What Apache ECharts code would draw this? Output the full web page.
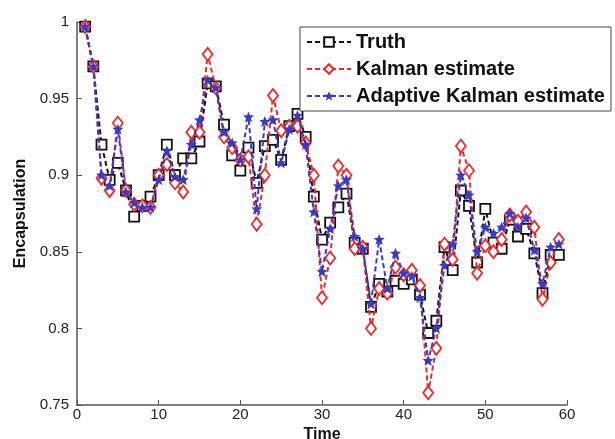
<!DOCTYPE html>
<html>
<head>
    <meta charset="utf-8">
    <title>Encapsulation</title>
    <script src="https://cdn.jsdelivr.net/npm/echarts@6/dist/echarts.min.js"></script>
    <style>
        html, body { margin: 0; padding: 0; background: #ffffff; }
        #chart { width: 615px; height: 439px; }
    </style>
</head>
<body>
<div id="chart"></div>
<script>
    // time steps
    var timeSteps = [1, 2, 3, 4, 5, 6, 7, 8, 9, 10, 11, 12, 13, 14, 15, 16, 17, 18, 19, 20,
        21, 22, 23, 24, 25, 26, 27, 28, 29, 30, 31, 32, 33, 34, 35, 36, 37, 38, 39, 40,
        41, 42, 43, 44, 45, 46, 47, 48, 49, 50, 51, 52, 53, 54, 55, 56, 57, 58, 59];

    var truth = [0.997, 0.971, 0.920, 0.897, 0.908, 0.890, 0.873, 0.880, 0.886, 0.900,
        0.920, 0.900, 0.911, 0.911, 0.922, 0.960, 0.958, 0.933, 0.913, 0.903,
        0.918, 0.895, 0.919, 0.923, 0.910, 0.932, 0.940, 0.925, 0.886, 0.858,
        0.869, 0.879, 0.888, 0.856, 0.852, 0.814, 0.829, 0.824, 0.831, 0.829,
        0.832, 0.822, 0.797, 0.805, 0.853, 0.838, 0.890, 0.880, 0.843, 0.878,
        0.856, 0.852, 0.871, 0.860, 0.865, 0.849, 0.823, 0.848, 0.848];

    var kalman = [0.997, 0.971, 0.898, 0.890, 0.934, 0.890, 0.881, 0.880, 0.879, 0.900,
        0.907, 0.895, 0.889, 0.928, 0.928, 0.979, 0.957, 0.925, 0.918, 0.910,
        0.912, 0.868, 0.900, 0.952, 0.929, 0.932, 0.932, 0.921, 0.900, 0.820,
        0.846, 0.906, 0.900, 0.852, 0.853, 0.800, 0.826, 0.823, 0.840, 0.835,
        0.838, 0.828, 0.758, 0.787, 0.855, 0.845, 0.919, 0.903, 0.836, 0.854,
        0.850, 0.858, 0.874, 0.870, 0.876, 0.866, 0.819, 0.843, 0.858];

    var adaptive = [0.997, 0.971, 0.900, 0.893, 0.930, 0.889, 0.882, 0.879, 0.879, 0.897,
        0.916, 0.899, 0.897, 0.920, 0.936, 0.962, 0.957, 0.928, 0.921, 0.910,
        0.938, 0.878, 0.935, 0.936, 0.908, 0.930, 0.939, 0.920, 0.876, 0.837,
        0.865, 0.893, 0.897, 0.860, 0.852, 0.816, 0.858, 0.826, 0.849, 0.836,
        0.834, 0.820, 0.779, 0.800, 0.841, 0.855, 0.900, 0.887, 0.850, 0.866,
        0.862, 0.866, 0.875, 0.866, 0.872, 0.851, 0.829, 0.853, 0.855];

    var seriesNames = ['Truth', 'Kalman estimate', 'Adaptive Kalman estimate'];

    function pairs(vals) {
        var out = [];
        for (var i = 0; i < vals.length; i++) {
            out.push([timeSteps[i], vals[i]]);
        }
        return out;
    }

    var starPath = 'path://M0,-10 L2.5,-3.5 L9,-3 L4,1.5 L6,9 L0,4.5 L-6,9 L-4,1.5 L-9,-3 L-2.5,-3.5 Z';

    var chart = echarts.init(document.getElementById('chart'));

    var option = {
        backgroundColor: '#ffffff',
        animation: false,
        textStyle: { fontFamily: 'Liberation Sans, Arial, sans-serif' },
        grid: { left: 77, right: 48, top: 22, bottom: 34, outerBoundsMode: 'none' },
        legend: {
            orient: 'vertical',
            left: 300,
            top: 27,
            padding: [5, 6, 5, 6],
            itemGap: 7,
            itemWidth: 44,
            itemHeight: 12,
            backgroundColor: '#ffffff',
            borderColor: '#444',
            borderWidth: 1,
            borderRadius: 0,
            textStyle: { fontSize: 20, fontWeight: 'bold', color: '#111' },
            data: seriesNames
        },
        xAxis: {
            type: 'value',
            min: 0,
            max: 60,
            interval: 10,
            name: 'Time',
            nameLocation: 'middle',
            nameGap: 21,
            nameTextStyle: { fontSize: 16, fontWeight: 'bold', color: '#111' },
            axisLine: { onZero: false, lineStyle: { color: '#555', width: 1.5 } },
            axisTick: { inside: true, length: 5, lineStyle: { color: '#555' } },
            axisLabel: { fontSize: 15, color: '#222', margin: 2 },
            splitLine: { show: false }
        },
        yAxis: {
            type: 'value',
            min: 0.75,
            max: 1,
            interval: 0.05,
            name: 'Encapsulation',
            nameLocation: 'middle',
            nameGap: 47,
            nameTextStyle: { fontSize: 16, fontWeight: 'bold', color: '#111' },
            axisLine: { show: true, lineStyle: { color: '#555', width: 1.5 } },
            axisTick: { show: true, inside: true, length: 5, lineStyle: { color: '#555' } },
            axisLabel: {
                fontSize: 15,
                color: '#222',
                margin: 8,
                formatter: function (v) { return String(+v.toFixed(2)); }
            },
            splitLine: { show: false }
        },
        series: [
            {
                name: seriesNames[0],
                type: 'line',
                data: pairs(truth),
                symbol: 'rect',
                symbolSize: 10,
                lineStyle: { color: '#111', width: 2, type: [5, 3] },
                itemStyle: { color: '#ffffff', borderColor: '#111', borderWidth: 1.8 },
                z: 2
            },
            {
                name: seriesNames[1],
                type: 'line',
                data: pairs(kalman),
                symbol: 'diamond',
                symbolSize: [10, 13],
                lineStyle: { color: '#f02828', width: 2, type: [5, 3] },
                itemStyle: { color: '#ffffff', borderColor: '#f02828', borderWidth: 1.8 },
                z: 3
            },
            {
                name: seriesNames[2],
                type: 'line',
                data: pairs(adaptive),
                symbol: starPath,
                symbolSize: 11,
                lineStyle: { color: '#3a3ac8', width: 2, type: [5, 3] },
                itemStyle: { color: '#3a3ac8' },
                z: 4
            }
        ]
    };

    chart.setOption(option);

    window.onresize = function () {
        chart.resize();
    };
</script>
</body>
</html>
